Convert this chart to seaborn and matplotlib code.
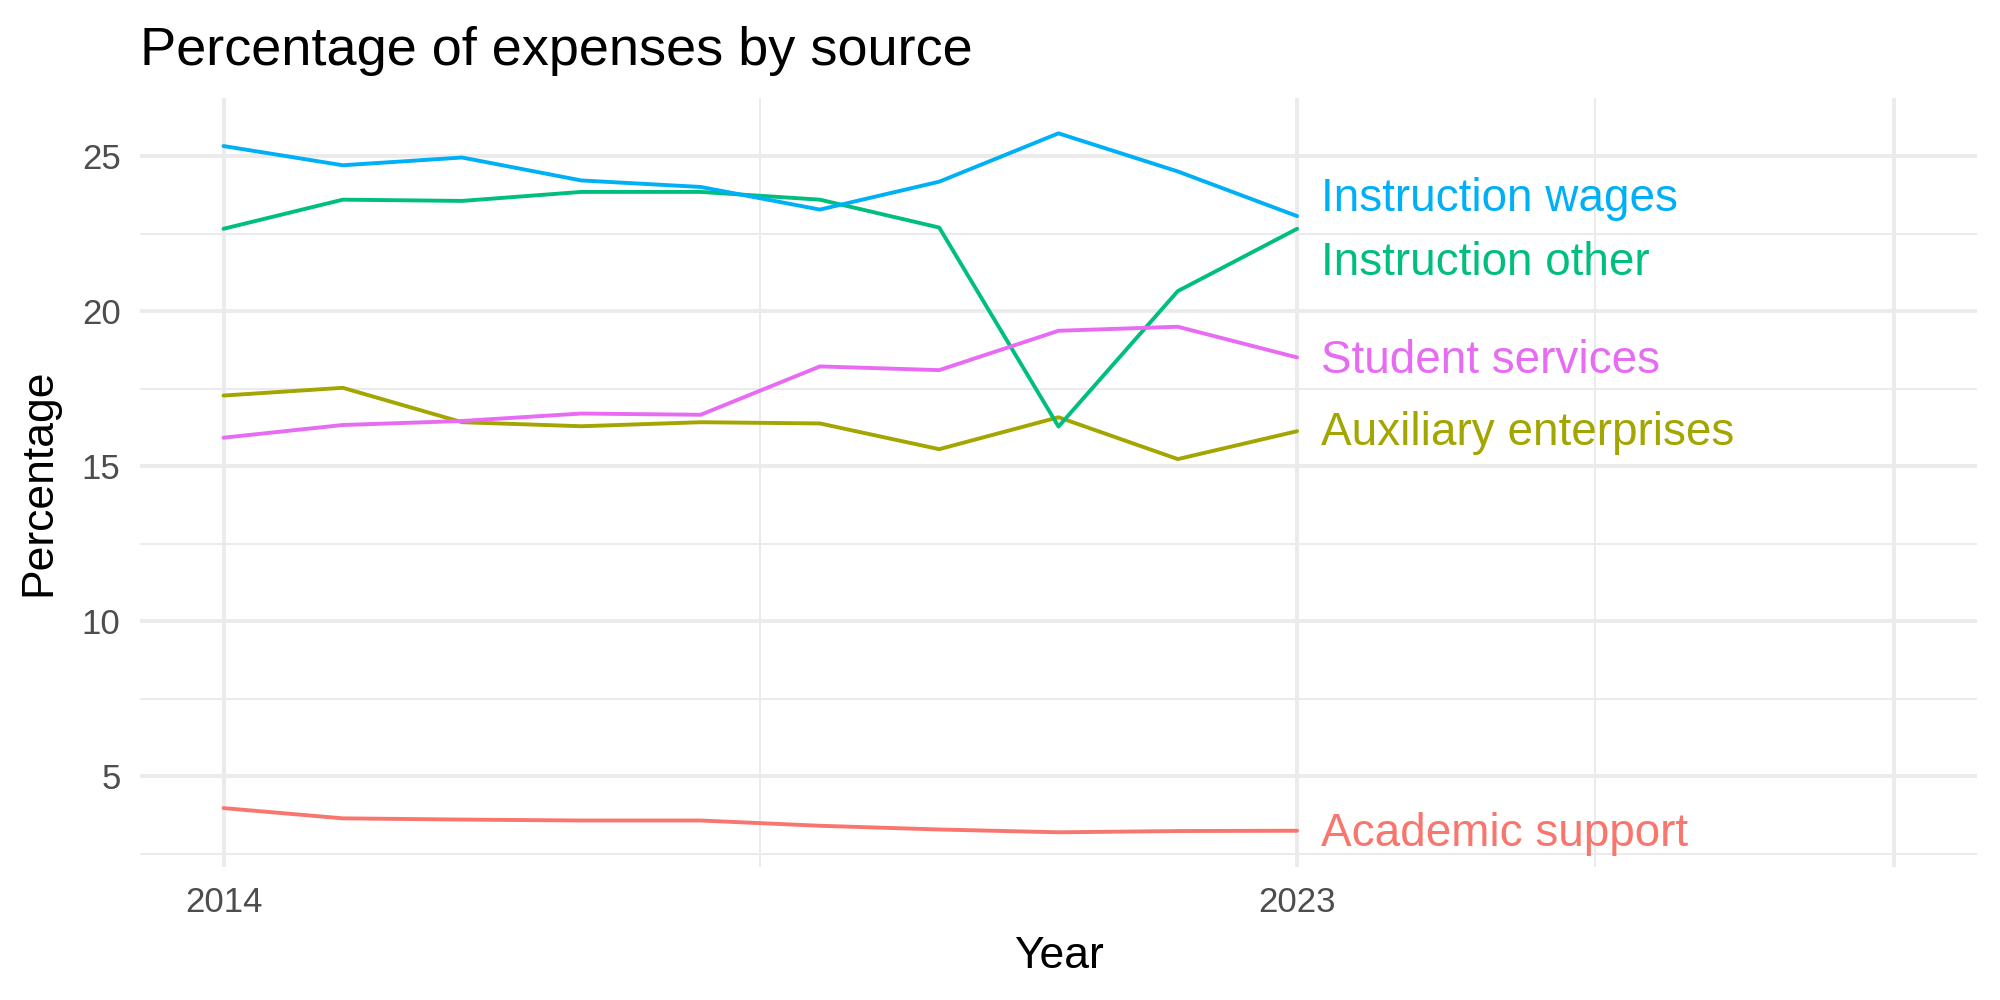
import numpy as np
import pandas as pd
import seaborn as sns
import matplotlib.pyplot as plt
from matplotlib.ticker import FixedLocator

# 데이터
years = list(range(2014, 2024))
academic_support = [3.97, 3.64, 3.60, 3.57, 3.57, 3.40, 3.28, 3.19, 3.23, 3.24]
auxiliary_enterprises = [17.28, 17.53, 16.42, 16.29, 16.42, 16.38, 15.55, 16.58, 15.23, 16.13]
instruction_other = [22.66, 23.60, 23.56, 23.85, 23.85, 23.60, 22.70, 16.28, 20.65, 22.66]
instruction_wages = [25.33, 24.71, 24.96, 24.22, 24.01, 23.28, 24.18, 25.74, 24.51, 23.07]
student_services = [15.92, 16.33, 16.46, 16.70, 16.66, 18.22, 18.10, 19.37, 19.50, 18.51]

sources = ["Academic support", "Auxiliary enterprises", "Instruction other",
           "Instruction wages", "Student services"]
series = [academic_support, auxiliary_enterprises, instruction_other,
          instruction_wages, student_services]

df = pd.DataFrame({
    "Year": years * len(sources),
    "Percentage": np.concatenate(series),
    "Source": np.repeat(sources, len(years)),
})

# ggplot 기본 색상
palette = dict(zip(sources, ["#F8766D", "#A3A500", "#00BF7D", "#00B0F6", "#E76BF3"]))

sns.set_theme(style="white")
plt.rcParams['font.family'] = ['Liberation Sans', 'DejaVu Sans']
plt.rcParams['text.color'] = 'black'
plt.rcParams['axes.labelcolor'] = 'black'

fig, ax = plt.subplots(figsize=(10, 5), dpi=200)
fig.subplots_adjust(left=0.07, right=0.9885, top=0.902, bottom=0.133)

sns.lineplot(data=df, x="Year", y="Percentage", hue="Source", palette=palette,
             linewidth=1.4, legend=False, ax=ax, zorder=3)

# 라벨 (끝점 옆, 겹치는 것만 살짝 밀어냄)
nudge = {"Instruction wages": 0.56, "Instruction other": -1.1, "Academic support": -0.12,
         "Student services": -0.1, "Auxiliary enterprises": -0.06}
last = df[df["Year"] == years[-1]]
for _, row in last.iterrows():
    ax.text(years[-1] + 0.2, row["Percentage"] + nudge.get(row["Source"], 0),
            row["Source"], color=palette[row["Source"]], fontsize=16.5,
            ha="left", va="center", zorder=4)

# 축 / 격자
ax.set_xlim(2013.3, 2028.7)
ax.set_ylim(2.07, 26.88)
ax.xaxis.set_major_locator(FixedLocator([2014, 2023, 2028]))
ax.set_xticklabels(["2014", "2023", ""])
ax.xaxis.set_minor_locator(FixedLocator([2018.5, 2025.5]))
ax.yaxis.set_major_locator(FixedLocator([5, 10, 15, 20, 25]))
ax.yaxis.set_minor_locator(FixedLocator([2.5, 7.5, 12.5, 17.5, 22.5]))
ax.grid(which="major", color="#EBEBEB", linewidth=1.4)
ax.grid(which="minor", color="#EBEBEB", linewidth=0.7)
ax.set_axisbelow(True)
for s in ax.spines.values():
    s.set_visible(False)
ax.tick_params(which="both", length=0, labelsize=12.5, labelcolor="#4D4D4D", pad=7)

ax.set_xlabel("Year", fontsize=16, labelpad=6)
ax.set_ylabel("Percentage", fontsize=16, labelpad=8)
ax.set_title("Percentage of expenses by source", loc="left", fontsize=19.5, pad=12, color="black")

plt.savefig("out.png")
